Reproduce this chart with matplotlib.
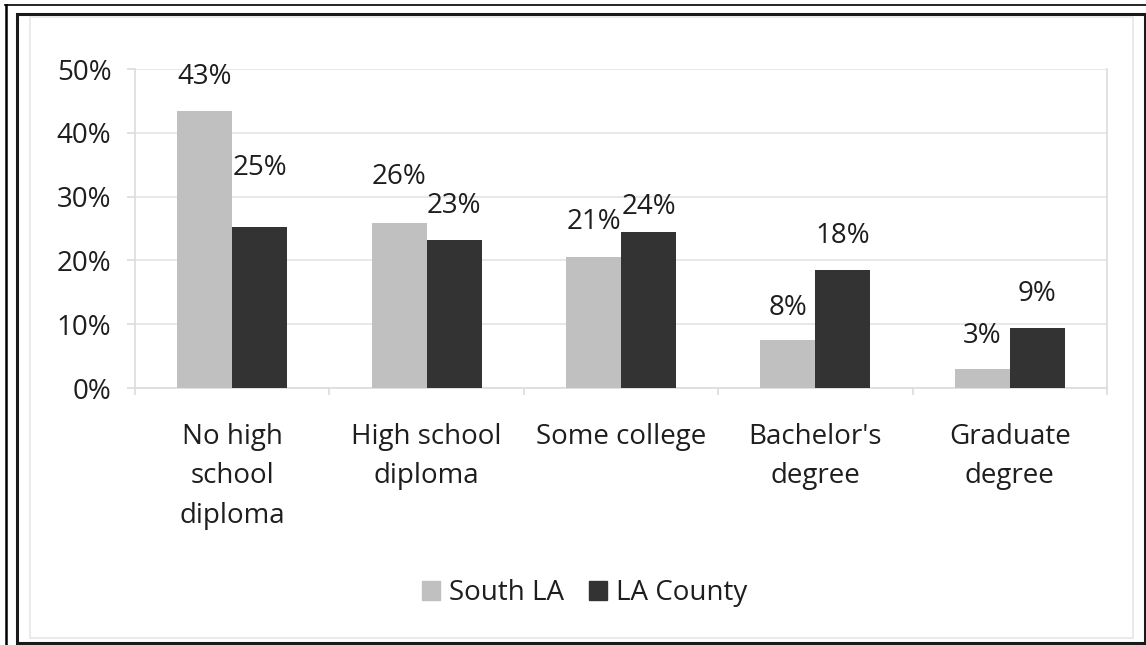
import matplotlib
matplotlib.use('Agg')
import matplotlib.pyplot as plt
from matplotlib.patches import Rectangle, Patch
from matplotlib.lines import Line2D
import numpy as np

plt.rcParams['font.family'] = ['Open Sans', 'DejaVu Sans']

# data
categories = ["No high\nschool\ndiploma", "High school\ndiploma", "Some college",
              "Bachelor's\ndegree", "Graduate\ndegree"]
south_la = [43.4, 25.9, 20.6, 7.5, 2.9]
la_county = [25.3, 23.2, 24.5, 18.5, 9.45]
south_lbl = ["43%", "26%", "21%", "8%", "3%"]
county_lbl = ["25%", "23%", "24%", "18%", "9%"]

# label offsets above bar top (points), some labels were dragged by hand
south_off = [24.5, 33, 25, 23.5, 24]
county_off = [42.5, 24.5, 17.5, 24.5, 24]

W, H = 1146, 645
fig = plt.figure(figsize=(W / 100, H / 100), dpi=100)
fig.patch.set_facecolor('white')

def px(x, y):
    return x / W, 1 - y / H

# frame lines (outer thin, inner thick, light gray box)
fig.add_artist(Line2D([px(5, 0)[0], 1], [px(0, 5)[1]] * 2, color='black', lw=1.2))
fig.add_artist(Line2D([px(6, 0)[0]] * 2, [px(0, 5)[1], 0], color='black', lw=1.8))
x0, y0 = px(16.5, 643)
x1, y1 = px(1144.5, 13.5)
fig.add_artist(Rectangle((x0, y0), x1 - x0, y1 - y0, fill=False, ec='#1a1a1a', lw=2.2))
x0, y0 = px(30, 638)
x1, y1 = px(1133, 17)
fig.add_artist(Rectangle((x0, y0), x1 - x0, y1 - y0, fill=False, ec='#e6e6e6', lw=1.2))

l, b = px(135, 388)
r, t = px(1107, 69)
ax = fig.add_axes([l, b, r - l, t - b])

x = np.arange(len(categories))
w = 0.283
text_c = '#1e1e1e'
ax.bar(x - w / 2, south_la, w, color='#c0c0c0', zorder=3, label='South LA')
ax.bar(x + w / 2, la_county, w, color='#333333', zorder=3, label='LA County')

for i in range(len(categories)):
    ax.annotate(south_lbl[i], (x[i] - w / 2, south_la[i]), xytext=(0, south_off[i]),
                textcoords='offset points', ha='center', va='center', fontsize=20, color=text_c)
    ax.annotate(county_lbl[i], (x[i] + w / 2, la_county[i]), xytext=(0, county_off[i]),
                textcoords='offset points', ha='center', va='center', fontsize=20, color=text_c)

ax.set_xlim(-0.5, len(categories) - 0.5)
ax.set_ylim(0, 50)
ax.set_yticks([0, 10, 20, 30, 40, 50])
ax.set_yticklabels(['0%', '10%', '20%', '30%', '40%', '50%'])
ax.set_xticks(x)
ax.set_xticklabels(categories, linespacing=1.55)
ax.set_xticks(np.arange(len(categories) + 1) - 0.5, minor=True)

ax.grid(axis='y', color='#e4e4e4', lw=1.2, zorder=0)
ax.spines['top'].set_visible(False)
for s in ['left', 'right', 'bottom']:
    ax.spines[s].set_color('#dcdcdc')
    ax.spines[s].set_linewidth(1.2)
ax.tick_params(axis='y', length=6, color='#dcdcdc', width=1.2, pad=11, labelsize=20,
               labelcolor=text_c)
ax.tick_params(axis='x', which='major', length=0, pad=25, labelsize=20, labelcolor=text_c)
ax.tick_params(axis='x', which='minor', length=5, color='#dcdcdc', width=1.2)

handles = [Patch(color='#c0c0c0', label='South LA'), Patch(color='#333333', label='LA County')]
fig.legend(handles=handles, loc='center', bbox_to_anchor=px(585, 593), ncol=2, frameon=False,
           fontsize=20, handlelength=0.65, handleheight=0.65, handletextpad=0.32,
           columnspacing=0.9, labelcolor=text_c)

fig.savefig('out.png', dpi=100, facecolor='white')
